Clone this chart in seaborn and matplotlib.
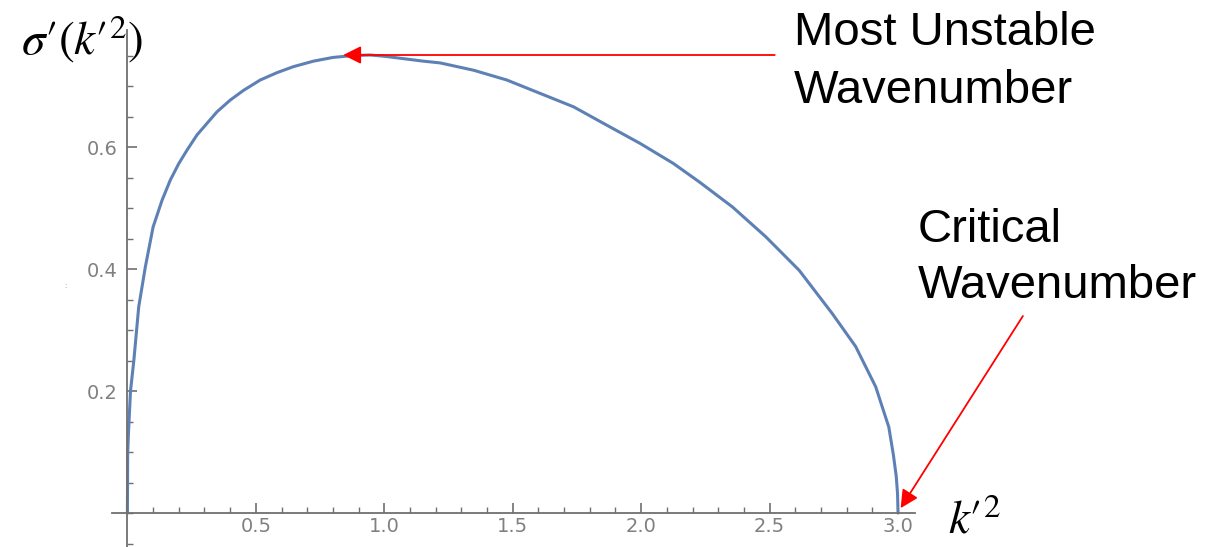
import matplotlib
matplotlib.use("Agg")
import matplotlib.pyplot as plt
import seaborn as sns
import pandas as pd
from matplotlib.ticker import FixedLocator, MultipleLocator

# values
k2 = [0.0, 0.001, 0.004, 0.012, 0.025, 0.044, 0.057, 0.07, 0.10, 0.135, 0.167, 0.20,
      0.232, 0.271, 0.31, 0.349, 0.40, 0.452, 0.517, 0.582, 0.647, 0.725, 0.80, 0.875,
      0.945, 1.0, 1.075, 1.15, 1.218, 1.348, 1.477, 1.607, 1.737, 1.866, 1.996, 2.126,
      2.226, 2.355, 2.485, 2.615, 2.744, 2.835, 2.913, 2.964, 2.982, 2.993, 2.998, 3.0]
sigma = [0.0, 0.098, 0.13, 0.20, 0.25, 0.338, 0.371, 0.404, 0.469, 0.513, 0.546, 0.573,
         0.595, 0.62, 0.639, 0.658, 0.677, 0.693, 0.71, 0.722, 0.732, 0.741, 0.747, 0.750,
         0.751, 0.749, 0.745, 0.741, 0.738, 0.726, 0.710, 0.688, 0.666, 0.636, 0.606, 0.573,
         0.543, 0.502, 0.453, 0.398, 0.327, 0.273, 0.207, 0.141, 0.095, 0.06, 0.032, 0.0]

x_ticks = [0.5, 1.0, 1.5, 2.0, 2.5, 3.0]
y_ticks = [0.2, 0.4, 0.6]

df = pd.DataFrame({"k2": k2, "sigma": sigma})

sns.set_style("white")
plt.rcParams['font.family'] = ['Liberation Sans', 'DejaVu Sans']
plt.rcParams['mathtext.fontset'] = 'stix'

W, H = 1208, 547
fig = plt.figure(figsize=(W / 100, H / 100), dpi=100)
ax = fig.add_axes([112 / W, 0, (915 - 112) / W, (547 - 30) / H])

sns.lineplot(data=df, x="k2", y="sigma", ax=ax, color="#5E81B5", lw=2.2,
             estimator=None, sort=False)

ax.set_xlim(-0.06, 3.066)
ax.set_ylim(-0.0557, 0.792)
ax.set_xlabel("")
ax.set_ylabel("")

for s in ["top", "right"]:
    ax.spines[s].set_visible(False)
for s in ["left", "bottom"]:
    ax.spines[s].set_position(("data", 0))
    ax.spines[s].set_color("#707070")
    ax.spines[s].set_linewidth(1.3)

ax.xaxis.set_major_locator(FixedLocator(x_ticks))
ax.yaxis.set_major_locator(FixedLocator(y_ticks))
ax.xaxis.set_minor_locator(MultipleLocator(0.1))
ax.yaxis.set_minor_locator(MultipleLocator(0.05))
ax.set_xticklabels([f"{v:.1f}" for v in x_ticks], family="DejaVu Sans")
ax.set_yticklabels([f"{v:.1f}" for v in y_ticks], family="DejaVu Sans")
ax.tick_params(which="both", bottom=True, left=True, top=False, right=False)
ax.tick_params(which="major", direction="in", length=7, width=1.2, color="#707070",
               labelcolor="#808080", labelsize=14)
ax.tick_params(which="minor", direction="in", length=4, width=1.0, color="#707070")
ax.tick_params(axis="x", which="major", pad=3)
ax.tick_params(axis="y", which="major", pad=7)
ax.patch.set_alpha(0)

# arrows
arrow = dict(arrowstyle="-|>", color="red", lw=1.3, mutation_scale=27,
             shrinkA=0, shrinkB=0)
ax.annotate("", xy=(0.84, 0.751), xytext=(2.52, 0.751), arrowprops=arrow,
            annotation_clip=False)
ax.annotate("", xy=(3.01, 0.008), xytext=(3.486, 0.323), arrowprops=arrow,
            annotation_clip=False)

# text, one line at a time on its baseline
for txt, x, base in [("Most Unstable", 794, 45), ("Wavenumber", 794, 103),
                     ("Critical", 918, 242), ("Wavenumber", 918, 298)]:
    fig.text(x / W, 1 - base / H, txt, fontsize=34, ha="left", va="baseline",
             color="black")
fig.text(82 / W, 1 - 39 / H, r"$\sigma′(k′^{2})$", fontsize=34, ha="center",
         va="center", color="black")
fig.text(975 / W, 1 - 522 / H, r"$k′^{2}$", fontsize=34, ha="center",
         va="center", color="black")
fig.text(65 / W, 1 - 287 / H, ":", fontsize=6, color="#4aa3df", ha="center",
         va="center")

fig.savefig("out.png", dpi=100)
